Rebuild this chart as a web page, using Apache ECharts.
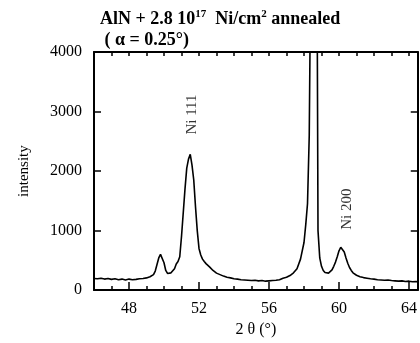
<!DOCTYPE html>
<html>
<head>
<meta charset="utf-8">
<script src="https://cdn.jsdelivr.net/npm/echarts@6/dist/echarts.min.js"></script>
<style>
  html, body { margin: 0; padding: 0; background: #fff; }
  #chart { width: 420px; height: 343px; }
</style>
</head>
<body>
<div id="chart"></div>
<script>
var twoTheta = [
  46.0, 46.2, 46.4, 46.6, 46.8, 47.0, 47.2, 47.4, 47.6, 47.8,
  48.0, 48.2, 48.4, 48.6, 48.8, 49.0, 49.2, 49.4, 49.5, 49.6,
  49.7, 49.8, 49.9, 50.0, 50.1, 50.2, 50.3, 50.4, 50.5, 50.6,
  50.7, 50.8, 50.9, 51.0, 51.1, 51.2, 51.3, 51.4, 51.5, 51.55,
  51.6, 51.7, 51.8, 51.9, 52.0, 52.1, 52.2, 52.3, 52.4, 52.6,
  52.8, 53.0, 53.2, 53.4, 53.6, 53.8, 54.0, 54.2, 54.4, 54.6,
  54.8, 55.0, 55.2, 55.4, 55.6, 55.8, 56.0, 56.2, 56.4, 56.6,
  56.8, 57.0, 57.2, 57.4, 57.6, 57.8, 58.0, 58.1, 58.2, 58.3,
  58.4, 58.5, 58.6, 58.7, 58.76, 58.8, 58.9, 59.0, 59.1, 59.2,
  59.3, 59.4, 59.5, 59.6, 59.7, 59.8, 59.9, 60.0, 60.1, 60.15,
  60.2, 60.3, 60.4, 60.5, 60.6, 60.7, 60.8, 60.9, 61.0, 61.2,
  61.4, 61.6, 61.8, 62.0, 62.2, 62.4, 62.6, 62.8, 63.0, 63.2,
  63.4, 63.6, 63.8, 64.0, 64.2, 64.4, 64.5
];
var intensity = [
  195, 190, 200, 185, 195, 180, 190, 175, 185, 170,
  185, 175, 180, 190, 195, 205, 225, 260, 320, 430,
  540, 600, 570, 460, 330, 280, 285, 290, 310, 360,
  440, 480, 560, 900, 1300, 1700, 2050, 2200, 2280, 2250,
  2100, 1850, 1400, 1000, 700, 590, 520, 480, 445, 390,
  330, 285, 260, 235, 215, 205, 190, 185, 175, 170,
  165, 160, 165, 155, 160, 150, 155, 160, 165, 175,
  200, 215, 245, 290, 360, 520, 800, 1100, 1450, 2600,
  6000, 12000, 10000, 6500, 4200, 1000, 540, 400, 330, 295,
  282, 285, 300, 340, 400, 470, 560, 660, 720, 730,
  710, 640, 540, 450, 380, 330, 290, 265, 250, 225,
  210, 200, 190, 185, 175, 170, 165, 170, 160, 155,
  150, 155, 145, 150, 140, 145, 135
];
var peakNames = ['Ni 111', 'Ni 200'];
var peakPos = [[51.58, 2950], [60.48, 1360]];
var xLabels = [48, 52, 56, 60, 64];

var serif = 'Liberation Serif';
var points = twoTheta.map(function (t, i) { return [t, intensity[i]]; });

var myEchart = echarts.init(document.getElementById('chart'));
var option = {
  animation: false,
  title: {
    left: 95,
    top: 4,
    text: '{b|AlN + 2.8 10}{s|17}{b|  Ni/cm}{s|2}{b| annealed}\n{b| ( α = 0.25°)}',
    textStyle: {
      rich: {
        b: { fontFamily: serif, fontWeight: 'bold', fontSize: 18, color: '#000', lineHeight: 21 },
        s: { fontFamily: serif, fontWeight: 'bold', fontSize: 11, color: '#000', verticalAlign: 'top', padding: [0, 0, 9, 0] }
      }
    }
  },
  grid: { left: 94, right: 1, top: 52, bottom: 44 },
  xAxis: [
    {
      type: 'value',
      min: 46,
      max: 64.5,
      interval: 1,
      name: '2 θ (°)',
      nameLocation: 'middle',
      nameGap: 26,
      nameTextStyle: { fontFamily: serif, fontSize: 16, color: '#000' },
      axisLine: { lineStyle: { color: '#000', width: 2 } },
      axisTick: { inside: true, length: 4, lineStyle: { color: '#000', width: 1.5 } },
      axisLabel: { customValues: xLabels, fontFamily: serif, fontSize: 16, color: '#000', margin: 11 },
      splitLine: { show: false }
    },
    {
      // longer ticks at labelled values
      type: 'value',
      min: 46,
      max: 64.5,
      position: 'bottom',
      axisLine: { show: false },
      axisTick: { inside: true, length: 8, customValues: xLabels, lineStyle: { color: '#000', width: 1.5 } },
      axisLabel: { show: false },
      splitLine: { show: false }
    },
    {
      type: 'value',
      min: 46,
      max: 64.5,
      interval: 1,
      position: 'top',
      axisLine: { lineStyle: { color: '#000', width: 2 } },
      axisTick: { inside: true, length: 4, lineStyle: { color: '#000', width: 1.5 } },
      axisLabel: { show: false },
      splitLine: { show: false }
    }
  ],
  yAxis: [
    {
      type: 'value',
      min: 0,
      max: 4000,
      interval: 1000,
      name: 'intensity',
      nameLocation: 'middle',
      nameGap: 62,
      nameTextStyle: { fontFamily: serif, fontSize: 15, color: '#000' },
      axisLine: { show: true, lineStyle: { color: '#000', width: 2 } },
      axisTick: { show: true, inside: true, length: 7, lineStyle: { color: '#000', width: 1.5 } },
      axisLabel: {
        fontFamily: serif, fontSize: 16, color: '#000', margin: 12,
        formatter: function (v) { return String(v); }
      },
      splitLine: { show: false }
    },
    {
      type: 'value',
      min: 0,
      max: 4000,
      interval: 1000,
      position: 'right',
      axisLine: { show: true, lineStyle: { color: '#000', width: 2 } },
      axisTick: { show: true, inside: true, length: 7, lineStyle: { color: '#000', width: 1.5 } },
      axisLabel: { show: false },
      splitLine: { show: false }
    }
  ],
  series: [
    {
      type: 'line',
      data: points,
      showSymbol: false,
      clip: true,
      lineStyle: { color: '#000', width: 1.6 }
    },
    {
      // peak labels
      type: 'scatter',
      data: peakPos.map(function (p, i) { return { name: peakNames[i], value: p }; }),
      symbolSize: 2,
      itemStyle: { color: 'rgba(0,0,0,0)' },
      label: {
        show: true,
        position: 'inside',
        rotate: 90,
        formatter: '{b}',
        fontFamily: serif,
        fontSize: 15,
        color: '#000'
      }
    }
  ]
};
myEchart.setOption(option);
</script>
</body>
</html>
